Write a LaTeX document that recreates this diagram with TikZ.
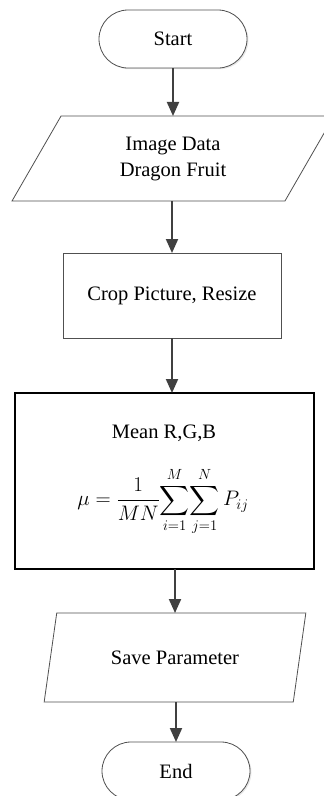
\documentclass[tikz,border=0pt]{standalone}
\usepackage{fix-cm}
\usepackage{amsmath}
\usepackage{exscale}
\usepackage{fontspec}
\setmainfont{Liberation Serif}
\usetikzlibrary{shapes.geometric,shapes.misc,arrows.meta,shadows}
\definecolor{linegray}{HTML}{505050}
\definecolor{arrowgray}{HTML}{404040}
\tikzset{
  basefont/.style={font=\fontsize{20.5}{26}\selectfont},
  term/.style={rounded rectangle, draw=linegray, line width=0.8pt, fill=white,
    minimum width=148pt, minimum height=58pt, inner sep=0pt, outer sep=0pt, basefont,
    drop shadow={opacity=0.18, shadow xshift=1.5pt, shadow yshift=-1.2pt}},
  iobox/.style={trapezium, trapezium stretches=true, draw=linegray, line width=0.8pt,
    inner sep=0pt, outer sep=0pt, align=center, basefont},
  procbox/.style={rectangle, draw=linegray, line width=0.8pt, inner sep=0pt, outer sep=0pt, basefont},
  boldbox/.style={rectangle, draw=black, line width=1.6pt, inner sep=0pt, outer sep=0pt},
  txt/.style={inner sep=0pt, outer sep=0pt, basefont},
  flow/.style={draw=arrowgray, line width=2pt, -{Triangle[length=14pt,width=12pt]}}
}
\begin{document}
\begin{tikzpicture}[x=1pt,y=-1pt]
\useasboundingbox (0,0) rectangle (324,796);
\fill[white] (0,0) rectangle (324,796);

\node[term] (start) at (173,39) {Start};
\node[iobox, trapezium left angle=62, trapezium right angle=118,
      minimum width=322pt, minimum height=85pt] (data) at (173,158.5) {Image Data\\Dragon Fruit};
\node[procbox, minimum width=218pt, minimum height=85pt] (crop) at (172,295.5) {Crop Picture, Resize};
\node[boldbox, minimum width=299pt, minimum height=176pt] (mean) at (164.5,481) {};
\node[txt] (meanlabel) at (164,433) {Mean R,G,B};
\node[txt, font=\fontsize{21}{26}\selectfont] (formula) at (163,501.5)
  {$\displaystyle \mu = \frac{1}{MN}\!\sum_{i=1}^{M}\!\sum_{j=1}^{N}P_{ij}$};
\node[iobox, trapezium left angle=63.7, trapezium right angle=116.3,
      minimum width=262pt, minimum height=89pt] (save) at (175,657.5) {Save Parameter};
\node[term] (end) at (176,771) {End};

\draw[flow] (start.south) -- (start.south |- data.north);
\draw[flow] (crop.north |- data.south) -- (crop.north);
\draw[flow] (crop.south) -- (crop.south |- mean.north);
\draw[flow] (save.north |- mean.south) -- (save.north);
\draw[flow] (end.north |- save.south) -- (end.north);
\end{tikzpicture}
\end{document}
